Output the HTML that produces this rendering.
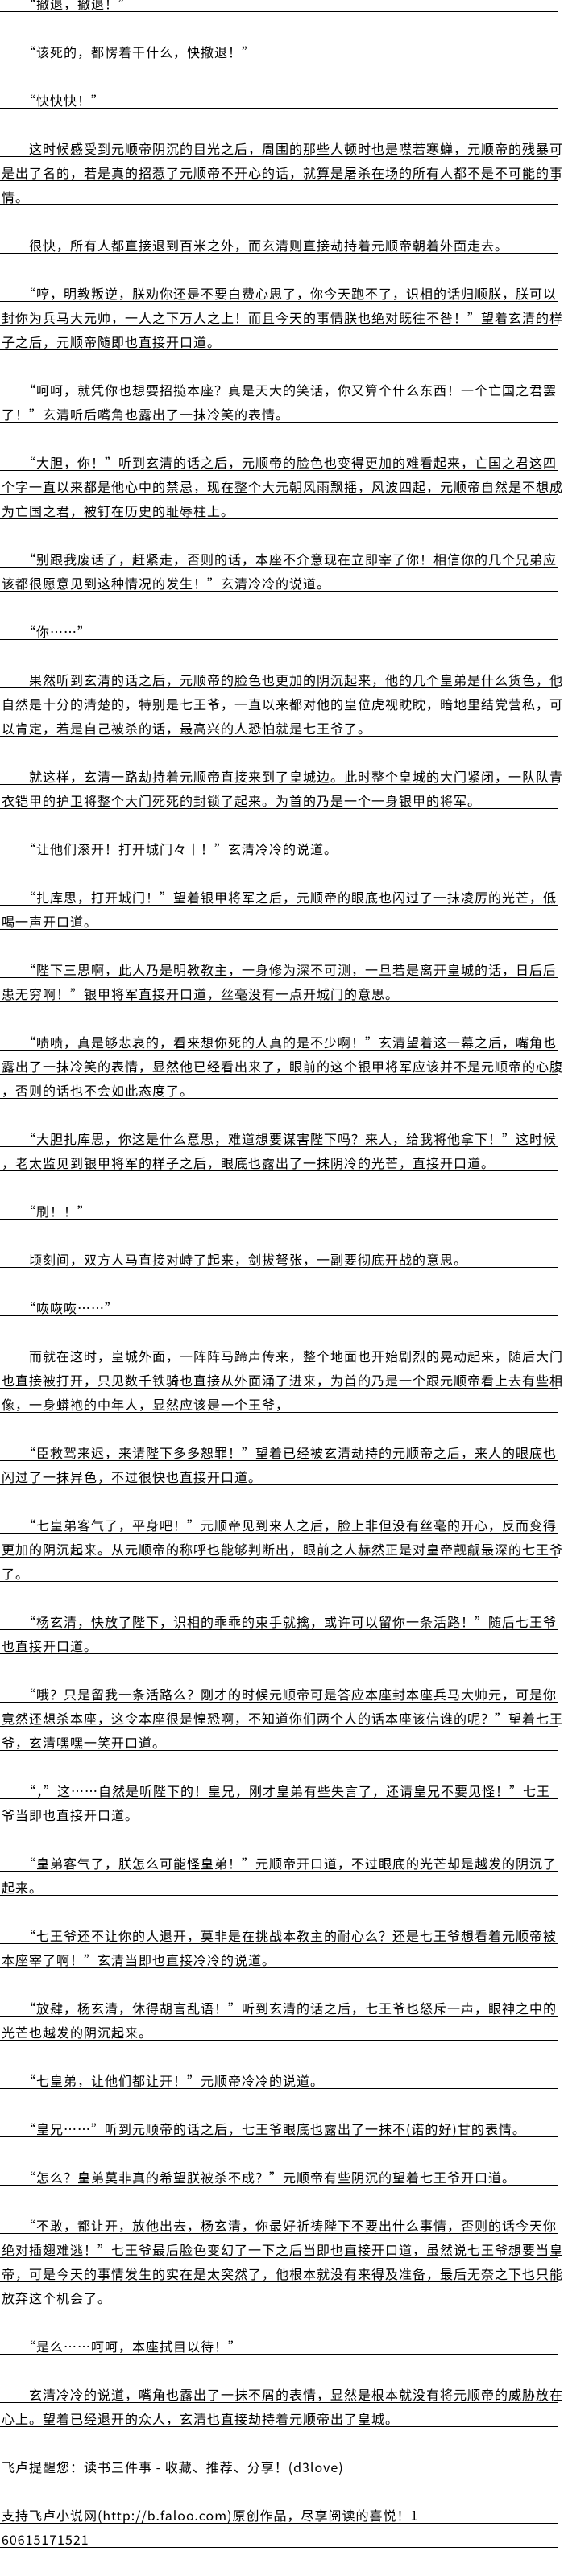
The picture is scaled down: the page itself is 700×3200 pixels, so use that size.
<!DOCTYPE html>
<html><head><meta charset="utf-8"><style>
html,body{margin:0;padding:0;background:#fff;}
body{width:700px;height:3200px;position:relative;overflow:hidden;}
.l{position:absolute;left:0;width:690px;height:20px;line-height:20px;border-bottom:1px solid #000;padding-left:2px;box-sizing:content-box;white-space:nowrap;font-family:"Noto Sans CJK SC","WenQuanYi Zen Hei","Liberation Sans",sans-serif;font-size:16px;letter-spacing:1px;color:#000;}
</style></head><body>
<div class="l" style="top:-6px">　　“撤退，撤退！”</div>
<div class="l" style="top:54px">　　“该死的，都愣着干什么，快撤退！”</div>
<div class="l" style="top:114px">　　“快快快！”</div>
<div class="l" style="top:174px">　　这时候感受到元顺帝阴沉的目光之后，周围的那些人顿时也是噤若寒蝉，元顺帝的残暴可</div>
<div class="l" style="top:204px">是出了名的，若是真的招惹了元顺帝不开心的话，就算是屠杀在场的所有人都不是不可能的事</div>
<div class="l" style="top:234px">情。</div>
<div class="l" style="top:294px">　　很快，所有人都直接退到百米之外，而玄清则直接劫持着元顺帝朝着外面走去。</div>
<div class="l" style="top:354px">　　“哼，明教叛逆，朕劝你还是不要白费心思了，你今天跑不了，识相的话归顺朕，朕可以</div>
<div class="l" style="top:384px">封你为兵马大元帅，一人之下万人之上！而且今天的事情朕也绝对既往不咎！”望着玄清的样</div>
<div class="l" style="top:414px">子之后，元顺帝随即也直接开口道。</div>
<div class="l" style="top:474px">　　“呵呵，就凭你也想要招揽本座？真是天大的笑话，你又算个什么东西！一个亡国之君罢</div>
<div class="l" style="top:504px">了！”玄清听后嘴角也露出了一抹冷笑的表情。</div>
<div class="l" style="top:564px">　　“大胆，你！”听到玄清的话之后，元顺帝的脸色也变得更加的难看起来，亡国之君这四</div>
<div class="l" style="top:594px">个字一直以来都是他心中的禁忌，现在整个大元朝风雨飘摇，风波四起，元顺帝自然是不想成</div>
<div class="l" style="top:624px">为亡国之君，被钉在历史的耻辱柱上。</div>
<div class="l" style="top:684px">　　“别跟我废话了，赶紧走，否则的话，本座不介意现在立即宰了你！相信你的几个兄弟应</div>
<div class="l" style="top:714px">该都很愿意见到这种情况的发生！”玄清冷冷的说道。</div>
<div class="l" style="top:774px">　　“你……”</div>
<div class="l" style="top:834px">　　果然听到玄清的话之后，元顺帝的脸色也更加的阴沉起来，他的几个皇弟是什么货色，他</div>
<div class="l" style="top:864px">自然是十分的清楚的，特别是七王爷，一直以来都对他的皇位虎视眈眈，暗地里结党营私，可</div>
<div class="l" style="top:894px">以肯定，若是自己被杀的话，最高兴的人恐怕就是七王爷了。</div>
<div class="l" style="top:954px">　　就这样，玄清一路劫持着元顺帝直接来到了皇城边。此时整个皇城的大门紧闭，一队队青</div>
<div class="l" style="top:984px">衣铠甲的护卫将整个大门死死的封锁了起来。为首的乃是一个一身银甲的将军。</div>
<div class="l" style="top:1044px">　　“让他们滚开！打开城门々丨！”玄清冷冷的说道。</div>
<div class="l" style="top:1104px">　　“扎库思，打开城门！”望着银甲将军之后，元顺帝的眼底也闪过了一抹凌厉的光芒，低</div>
<div class="l" style="top:1134px">喝一声开口道。</div>
<div class="l" style="top:1194px">　　“陛下三思啊，此人乃是明教教主，一身修为深不可测，一旦若是离开皇城的话，日后后</div>
<div class="l" style="top:1224px">患无穷啊！”银甲将军直接开口道，丝毫没有一点开城门的意思。</div>
<div class="l" style="top:1284px">　　“啧啧，真是够悲哀的，看来想你死的人真的是不少啊！”玄清望着这一幕之后，嘴角也</div>
<div class="l" style="top:1314px">露出了一抹冷笑的表情，显然他已经看出来了，眼前的这个银甲将军应该并不是元顺帝的心腹</div>
<div class="l" style="top:1344px">，否则的话也不会如此态度了。</div>
<div class="l" style="top:1404px">　　“大胆扎库思，你这是什么意思，难道想要谋害陛下吗？来人，给我将他拿下！”这时候</div>
<div class="l" style="top:1434px">，老太监见到银甲将军的样子之后，眼底也露出了一抹阴冷的光芒，直接开口道。</div>
<div class="l" style="top:1494px">　　“刷！！”</div>
<div class="l" style="top:1554px">　　顷刻间，双方人马直接对峙了起来，剑拔弩张，一副要彻底开战的意思。</div>
<div class="l" style="top:1614px">　　“咴咴咴……”</div>
<div class="l" style="top:1674px">　　而就在这时，皇城外面，一阵阵马蹄声传来，整个地面也开始剧烈的晃动起来，随后大门</div>
<div class="l" style="top:1704px">也直接被打开，只见数千铁骑也直接从外面涌了进来，为首的乃是一个跟元顺帝看上去有些相</div>
<div class="l" style="top:1734px">像，一身蟒袍的中年人，显然应该是一个王爷，</div>
<div class="l" style="top:1794px">　　“臣救驾来迟，来请陛下多多恕罪！”望着已经被玄清劫持的元顺帝之后，来人的眼底也</div>
<div class="l" style="top:1824px">闪过了一抹异色，不过很快也直接开口道。</div>
<div class="l" style="top:1884px">　　“七皇弟客气了，平身吧！”元顺帝见到来人之后，脸上非但没有丝毫的开心，反而变得</div>
<div class="l" style="top:1914px">更加的阴沉起来。从元顺帝的称呼也能够判断出，眼前之人赫然正是对皇帝觊觎最深的七王爷</div>
<div class="l" style="top:1944px">了。</div>
<div class="l" style="top:2004px">　　“杨玄清，快放了陛下，识相的乖乖的束手就擒，或许可以留你一条活路！”随后七王爷</div>
<div class="l" style="top:2034px">也直接开口道。</div>
<div class="l" style="top:2094px">　　“哦？只是留我一条活路么？刚才的时候元顺帝可是答应本座封本座兵马大帅元，可是你</div>
<div class="l" style="top:2124px">竟然还想杀本座，这令本座很是惶恐啊，不知道你们两个人的话本座该信谁的呢？”望着七王</div>
<div class="l" style="top:2154px">爷，玄清嘿嘿一笑开口道。</div>
<div class="l" style="top:2214px">　　“，”这……自然是听陛下的！皇兄，刚才皇弟有些失言了，还请皇兄不要见怪！”七王</div>
<div class="l" style="top:2244px">爷当即也直接开口道。</div>
<div class="l" style="top:2304px">　　“皇弟客气了，朕怎么可能怪皇弟！”元顺帝开口道，不过眼底的光芒却是越发的阴沉了</div>
<div class="l" style="top:2334px">起来。</div>
<div class="l" style="top:2394px">　　“七王爷还不让你的人退开，莫非是在挑战本教主的耐心么？还是七王爷想看着元顺帝被</div>
<div class="l" style="top:2424px">本座宰了啊！”玄清当即也直接冷冷的说道。</div>
<div class="l" style="top:2484px">　　“放肆，杨玄清，休得胡言乱语！”听到玄清的话之后，七王爷也怒斥一声，眼神之中的</div>
<div class="l" style="top:2514px">光芒也越发的阴沉起来。</div>
<div class="l" style="top:2574px">　　“七皇弟，让他们都让开！”元顺帝冷冷的说道。</div>
<div class="l" style="top:2634px">　　“皇兄……”听到元顺帝的话之后，七王爷眼底也露出了一抹不(诺的好)甘的表情。</div>
<div class="l" style="top:2694px">　　“怎么？皇弟莫非真的希望朕被杀不成？”元顺帝有些阴沉的望着七王爷开口道。</div>
<div class="l" style="top:2754px">　　“不敢，都让开，放他出去，杨玄清，你最好祈祷陛下不要出什么事情，否则的话今天你</div>
<div class="l" style="top:2784px">绝对插翅难逃！”七王爷最后脸色变幻了一下之后当即也直接开口道，虽然说七王爷想要当皇</div>
<div class="l" style="top:2814px">帝，可是今天的事情发生的实在是太突然了，他根本就没有来得及准备，最后无奈之下也只能</div>
<div class="l" style="top:2844px">放弃这个机会了。</div>
<div class="l" style="top:2904px">　　“是么……呵呵，本座拭目以待！”</div>
<div class="l" style="top:2964px">　　玄清冷冷的说道，嘴角也露出了一抹不屑的表情，显然是根本就没有将元顺帝的威胁放在</div>
<div class="l" style="top:2994px">心上。望着已经退开的众人，玄清也直接劫持着元顺帝出了皇城。</div>
<div class="l" style="top:3054px">飞卢提醒您：读书三件事 - 收藏、推荐、分享！(d3love)</div>
<div class="l" style="top:3114px">支持飞卢小说网(http://b.faloo.com)原创作品，尽享阅读的喜悦！1</div>
<div class="l" style="top:3144px">60615171521</div>
</body></html>
